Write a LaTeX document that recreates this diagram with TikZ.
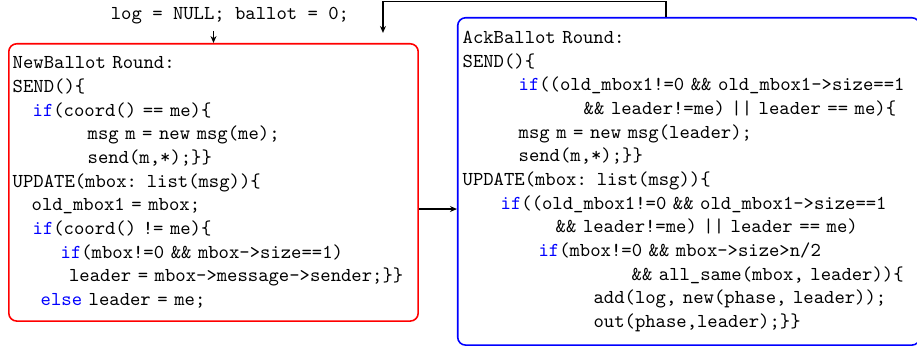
\documentclass[tikz,border=0pt]{standalone}
\usetikzlibrary{arrows.meta,positioning}
\newcommand{\kw}[1]{\textcolor{blue}{#1}}
\newcommand{\codeind}[1]{\hspace*{#1pt}}
\tikzset{
  roundbox/.style={draw,thick,rounded corners=4pt,align=left,anchor=north west,
    font=\ttfamily,text=black,inner ysep=0pt},
  flow/.style={-{Stealth[length=3.5pt,width=3pt]},semithick}
}
\begin{document}
\begin{tikzpicture}[x=1pt,y=1pt]
\useasboundingbox (0,0) rectangle (465,-176);
% initial values
\node[font=\ttfamily] (init) at (116.6,-8.1) {log = NULL; ballot = 0;};
% first round
\node[roundbox,draw=red,text width=203.6pt,inner xsep=2pt,minimum height=140.6pt]
  (newb) at (4.06,-21.8) {NewBallot Round:\\
SEND()\{\\
\codeind{10.1}\kw{if}(coord() == me)\{\\
\codeind{38}msg m = new msg(me);\\
\codeind{38}send(m,*);\}\}\\
UPDATE(mbox: list(msg))\{\\
\codeind{9.6}old\_mbox1 = mbox;\\
\codeind{10.1}\kw{if}(coord() != me)\{\\
\codeind{24.3}\kw{if}(mbox!=0 \&\& mbox->size==1)\\
\codeind{28.6}leader = mbox->message->sender;\}\}\\
\codeind{14.2}\kw{else} leader = me;};
% second round
\node[roundbox,draw=blue,text width=229.3pt,inner xsep=2.5pt,minimum height=166pt]
  (ackb) at (231.7,-8.6) {AckBallot Round:\\
SEND()\{\\
\codeind{28.4}\kw{if}((old\_mbox1!=0 \&\& old\_mbox1->size==1\\
\codeind{61.4}\&\& leader!=me) || leader == me)\{\\
\codeind{28.4}msg m = new msg(leader);\\
\codeind{28.4}send(m,*);\}\}\\
UPDATE(mbox: list(msg))\{\\
\codeind{19.3}\kw{if}((old\_mbox1!=0 \&\& old\_mbox1->size==1\\
\codeind{47.2}\&\& leader!=me) || leader == me)\\
\codeind{38.5}\kw{if}(mbox!=0 \&\& mbox->size>n/2\\
\codeind{85.7}\&\& all\_same(mbox, leader))\{\\
\codeind{66.4}add(log, new(phase, leader));\\
\codeind{66.4}out(phase,leader);\}\}};
% connectors
\coordinate (mid) at (0,-106);
\coordinate (ret) at (337.7,-0.6);
\coordinate (back) at (194.2,-16.7);
\draw[flow] (init.south -| newb.north) -- (newb.north);
\draw[flow] (newb.east |- mid) -- (ackb.west |- mid);
\draw[flow] (ackb.north -| ret) -- (ret) -| (back);
\end{tikzpicture}
\end{document}
